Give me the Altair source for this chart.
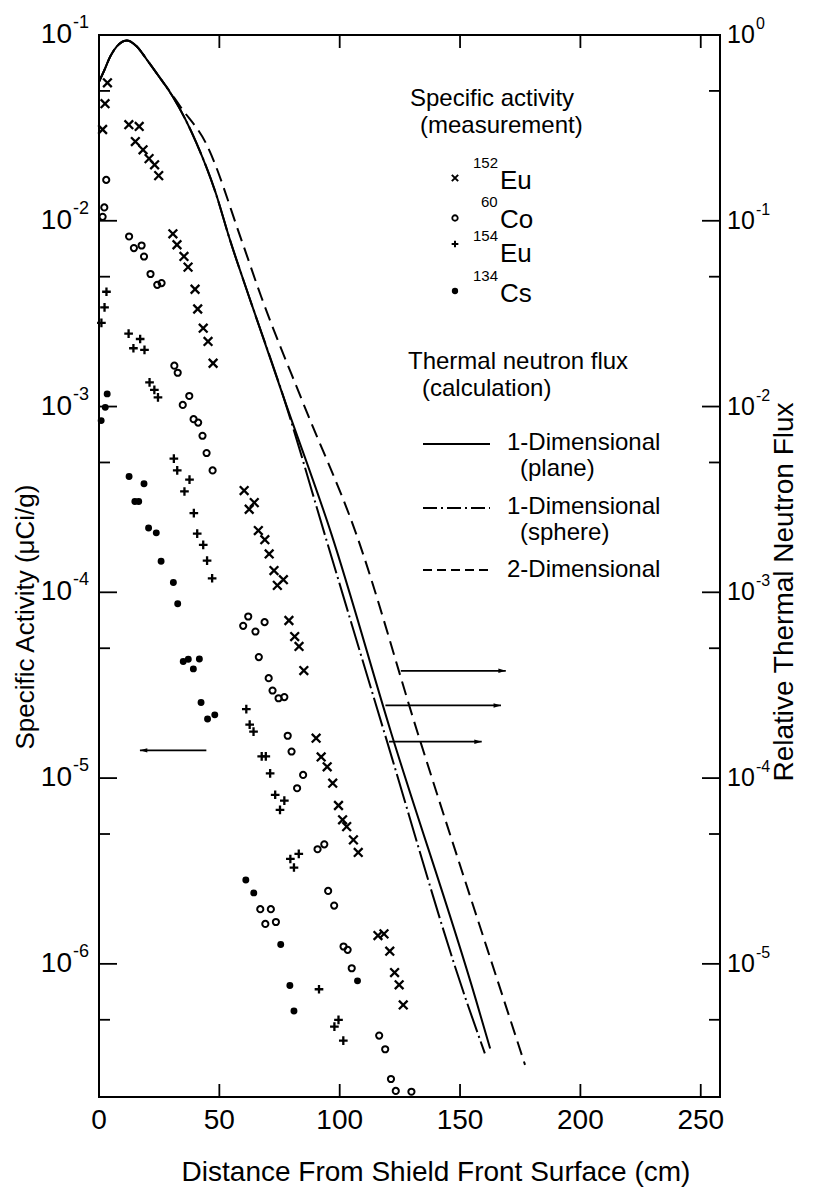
import altair as alt
import pandas as pd

# ---------------- data ----------------
eu152_x = [1.5, 2.5, 3.5, 12.4, 16.7, 15.1, 18.3, 20.8, 23.1, 24.8,
           30.7, 32.4, 35.3, 37.0, 39.9, 41.0, 43.3, 45.3, 47.4,
           60.3, 64.5, 62.4, 66.2, 68.9, 70.7, 72.7, 76.6, 74.1, 78.9, 81.3, 83.1, 85.1, 90.2,
           92.3, 94.8, 97.1, 99.5, 101.2, 102.9, 105.7, 107.7,
           115.9, 118.4, 120.8, 122.8, 124.7, 126.4]
eu152_y = [0.031, 0.0427, 0.0553, 0.0329, 0.0322, 0.0267, 0.0241, 0.0216, 0.0200, 0.0175,
           8.51e-3, 7.43e-3, 6.43e-3, 5.63e-3, 4.28e-3, 3.35e-3, 2.64e-3, 2.24e-3, 1.71e-3,
           3.53e-4, 3.04e-4, 2.8e-4, 2.15e-4, 1.92e-4, 1.61e-4, 1.31e-4, 1.17e-4, 1.09e-4, 7.05e-5, 5.78e-5, 5.11e-5, 3.79e-5, 1.64e-5,
           1.3e-5, 1.15e-5, 9.39e-6, 7.12e-6, 5.96e-6, 5.48e-6, 4.65e-6, 3.98e-6,
           1.42e-6, 1.45e-6, 1.17e-6, 8.98e-7, 7.71e-7, 6.01e-7]

co60_x = [1.5, 2.2, 3.0, 12.5, 14.5, 17.7, 18.7, 21.4, 24.2, 26.0,
          31.3, 32.7, 37.5, 34.8, 39.3, 41.2, 43.0, 44.7, 47.2,
          59.9, 62.0, 65.0, 68.8, 66.4, 70.5, 72.1, 74.6, 77.0, 78.4, 80.0, 84.8, 82.3,
          67.0, 71.4, 69.1, 73.5, 90.8, 93.6, 95.2, 97.7, 101.6, 103.3, 105.0,
          116.4, 118.9, 121.3, 123.3, 129.8]
co60_y = [0.0105, 0.0118, 0.0166, 8.23e-3, 7.13e-3, 7.36e-3, 6.42e-3, 5.17e-3, 4.52e-3, 4.62e-3,
          1.66e-3, 1.52e-3, 1.14e-3, 1.02e-3, 8.55e-4, 8.2e-4, 6.96e-4, 5.62e-4, 4.53e-4,
          6.6e-5, 7.41e-5, 6.15e-5, 6.91e-5, 4.48e-5, 3.45e-5, 2.96e-5, 2.69e-5, 2.73e-5, 1.69e-5, 1.39e-5, 1.04e-5, 8.82e-6,
          1.97e-6, 1.97e-6, 1.64e-6, 1.68e-6, 4.14e-6, 4.4e-6, 2.47e-6, 2.06e-6, 1.24e-6, 1.19e-6, 9.47e-7,
          4.11e-7, 3.47e-7, 2.4e-7, 2.07e-7, 2.05e-7]

eu154_x = [1.0, 2.3, 3.1, 12.3, 17.1, 14.3, 18.9, 21.0, 23.0, 24.5,
           31.1, 32.5, 37.6, 35.5, 39.4, 40.8, 43.3, 44.9, 47.0,
           61.2, 62.6, 64.2, 67.6, 69.3, 71.1, 73.2, 77.0, 75.2, 79.5, 83.0, 81.0,
           91.4, 97.8, 99.5, 101.5]
eu154_y = [2.82e-3, 3.42e-3, 4.15e-3, 2.47e-3, 2.31e-3, 2.06e-3, 2.02e-3, 1.35e-3, 1.23e-3, 1.12e-3,
           5.24e-4, 4.53e-4, 4.04e-4, 3.49e-4, 2.67e-4, 2.07e-4, 1.8e-4, 1.48e-4, 1.19e-4,
           2.35e-5, 1.94e-5, 1.78e-5, 1.31e-5, 1.31e-5, 1.06e-5, 8.13e-6, 7.57e-6, 6.75e-6, 3.67e-6, 3.91e-6, 3.3e-6,
           7.3e-7, 4.59e-7, 4.99e-7, 3.86e-7]

cs134_x = [0.9, 2.6, 3.4, 12.5, 18.7, 14.9, 16.5, 20.6, 23.8, 25.8,
           30.9, 32.7, 35.0, 37.1, 39.2, 41.7, 42.4, 45.1, 48.1,
           61.0, 64.3, 75.5, 79.3, 81.0, 107.4]
cs134_y = [8.4e-4, 9.9e-4, 1.17e-3, 4.2e-4, 3.84e-4, 3.08e-4, 3.08e-4, 2.22e-4, 2.09e-4, 1.47e-4,
           1.13e-4, 8.67e-5, 4.24e-5, 4.36e-5, 3.87e-5, 4.38e-5, 2.55e-5, 2.08e-5, 2.19e-5,
           2.83e-6, 2.41e-6, 1.27e-6, 7.64e-7, 5.58e-7, 8.1e-7]

plane_x = [0, 2, 4.7, 7.4, 11.6, 15.7, 19.9, 25.4, 31, 40.5, 48.5, 54, 62.2, 76.7, 96.4, 121.4, 156.6, 162.5]
plane_y = [0.056, 0.0637, 0.0767, 0.0868, 0.0935, 0.0868, 0.0736, 0.0586, 0.0458, 0.0262, 0.0141,
           8.2e-3, 3.95e-3, 1.12e-3, 2.09e-4, 1.75e-5, 6.4e-7, 3.5e-7]

sphere_x = [0, 2, 4.7, 7.4, 11.6, 15.7, 19.9, 25.4, 31, 40.5, 48.5, 54, 62.2, 76.7, 93.6, 118.6, 152.5, 160.3]
sphere_y = [0.056, 0.0637, 0.0767, 0.0868, 0.0935, 0.0868, 0.0736, 0.0586, 0.0458, 0.0262, 0.0141,
            8.2e-3, 3.95e-3, 1.12e-3, 2.09e-4, 1.75e-5, 6.4e-7, 3.3e-7]

twod_x = [0, 2, 4.7, 7.4, 11.6, 15.7, 19.9, 25.4, 28, 34, 44.4, 59.3, 67.4, 85, 106.7, 132.4, 168.2, 177]
twod_y = [0.056, 0.0637, 0.0767, 0.0868, 0.0935, 0.0868, 0.0736, 0.0586, 0.0528, 0.0408, 0.0262,
          7.8e-3, 3.9e-3, 1.03e-3, 2.09e-4, 1.75e-5, 6.4e-7, 2.86e-7]

# arrows (axis indicators): start x, end x, level
arrow_right_x1 = [125.4, 119.0, 120.5]
arrow_right_x2 = [169.0, 167.0, 159.0]
arrow_right_y = [3.78e-5, 2.46e-5, 1.57e-5]
arrow_left_x1 = [17.0]
arrow_left_x2 = [44.6]
arrow_left_y = [1.41e-5]

x_ticks = [0, 50, 100, 150, 200, 250]
y_major = [1e-1, 1e-2, 1e-3, 1e-4, 1e-5, 1e-6]
y_minor = [5e-2, 5e-3, 5e-4, 5e-5, 5e-6, 5e-7]
left_exp = ["-1", "-2", "-3", "-4", "-5", "-6"]
right_exp = ["0", "-1", "-2", "-3", "-4", "-5"]

# ---------------- layout ----------------
W, H = 621, 1062
XMAX = 258
YMIN, YMAX = 1.92e-7, 0.1
FONT = "Liberation Sans, DejaVu Sans"

xs = alt.Scale(domain=[0, XMAX], nice=False, zero=False)
ys = alt.Scale(type="log", domain=[YMIN, YMAX], nice=False)


def X(f="x"):
    return alt.X(f"{f}:Q", scale=xs, axis=None)


def Y(f="y"):
    return alt.Y(f"{f}:Q", scale=ys, axis=None)


ONE = pd.DataFrame({"k": [0]})
layers = []


def txt(s, px, py, size, align="left", angle=None):
    kw = dict(align=align, baseline="middle", fontSize=size, font=FONT, color="black")
    if angle is not None:
        kw["angle"] = angle
    return alt.Chart(ONE).mark_text(**kw).encode(x=alt.value(px), y=alt.value(py), text=alt.value(s))


# curves
def curve(xv, yv, dash=None):
    df = pd.DataFrame({"x": xv, "y": yv, "o": list(range(len(xv)))})
    kw = dict(color="black", strokeWidth=2, interpolate="monotone")
    if dash:
        kw["strokeDash"] = dash
    return alt.Chart(df).mark_line(**kw).encode(x=X(), y=Y(), order="o:Q")


layers.append(curve(plane_x, plane_y))
layers.append(curve(sphere_x, sphere_y, [30, 4, 2, 4]))
layers.append(curve(twod_x, twod_y, [14, 7]))

# measured points
XSHAPE = "M-1,-1L1,1M-1,1L1,-1"
PLUS = "M-1,0L1,0M0,-1L0,1"
layers.append(alt.Chart(pd.DataFrame({"x": eu152_x, "y": eu152_y})).mark_point(
    shape=XSHAPE, filled=False, size=75, strokeWidth=2.3, color="black", opacity=1).encode(x=X(), y=Y()))
layers.append(alt.Chart(pd.DataFrame({"x": co60_x, "y": co60_y})).mark_point(
    shape="circle", filled=False, size=38, strokeWidth=2, color="black", opacity=1).encode(x=X(), y=Y()))
layers.append(alt.Chart(pd.DataFrame({"x": eu154_x, "y": eu154_y})).mark_point(
    shape=PLUS, filled=False, size=75, strokeWidth=2.3, color="black", opacity=1).encode(x=X(), y=Y()))
layers.append(alt.Chart(pd.DataFrame({"x": cs134_x, "y": cs134_y})).mark_point(
    shape="circle", filled=True, size=48, color="black", opacity=1).encode(x=X(), y=Y()))

# arrows
ar = pd.DataFrame({"x1": arrow_right_x1, "x2": arrow_right_x2, "y": arrow_right_y})
al = pd.DataFrame({"x1": arrow_left_x1, "x2": arrow_left_x2, "y": arrow_left_y})
for d in (ar, al):
    layers.append(alt.Chart(d).mark_rule(color="black", strokeWidth=1.8).encode(
        x=X("x1"), x2="x2:Q", y=Y()))
layers.append(alt.Chart(ar).mark_point(shape="M0,0L-1,-0.3L-1,0.3Z", filled=True, size=220,
                                       color="black", opacity=1).encode(x=X("x2"), y=Y()))
layers.append(alt.Chart(al).mark_point(shape="M0,0L1,-0.3L1,0.3Z", filled=True, size=220,
                                       color="black", opacity=1).encode(x=X("x1"), y=Y()))

# inward ticks
maj = pd.DataFrame({"v": y_major, "e": left_exp, "r": right_exp, "b": ["10"] * 6})
mnr = pd.DataFrame({"v": y_minor})
layers.append(alt.Chart(maj).mark_rule(color="black", strokeWidth=1.8).encode(
    x=alt.value(0), x2=alt.value(18), y=Y("v")))
layers.append(alt.Chart(maj).mark_rule(color="black", strokeWidth=1.8).encode(
    x=alt.value(W), x2=alt.value(W - 18), y=Y("v")))
layers.append(alt.Chart(mnr).mark_rule(color="black", strokeWidth=1.8).encode(
    x=alt.value(0), x2=alt.value(11), y=Y("v")))
layers.append(alt.Chart(mnr).mark_rule(color="black", strokeWidth=1.8).encode(
    x=alt.value(W), x2=alt.value(W - 11), y=Y("v")))
xt = pd.DataFrame({"v": x_ticks[1:]})
layers.append(alt.Chart(xt).mark_rule(color="black", strokeWidth=1.8).encode(
    x=X("v"), y=alt.value(H), y2=alt.value(H - 13)))
layers.append(alt.Chart(xt).mark_rule(color="black", strokeWidth=1.8).encode(
    x=X("v"), y=alt.value(0), y2=alt.value(13)))

# tick labels (10 with raised exponent)
layers.append(alt.Chart(maj).mark_text(align="right", baseline="middle", fontSize=28, font=FONT,
                                       color="black").encode(x=alt.value(-27), y=Y("v"), text="b:N"))
layers.append(alt.Chart(maj).mark_text(align="left", baseline="middle", fontSize=18, font=FONT,
                                       color="black", dy=-12).encode(x=alt.value(-26), y=Y("v"), text="e:N"))
layers.append(alt.Chart(maj).mark_text(align="left", baseline="middle", fontSize=25, font=FONT,
                                       color="black").encode(x=alt.value(W + 7), y=Y("v"), text="b:N"))
layers.append(alt.Chart(maj).mark_text(align="left", baseline="middle", fontSize=16, font=FONT,
                                       color="black", dy=-11).encode(x=alt.value(W + 36), y=Y("v"), text="r:N"))
xl = pd.DataFrame({"v": x_ticks, "t": [str(v) for v in x_ticks]})
layers.append(alt.Chart(xl).mark_text(align="center", baseline="middle", fontSize=28, font=FONT,
                                      color="black").encode(x=X("v"), y=alt.value(H + 24), text="t:N"))

# axis titles
layers.append(txt("Distance  From  Shield  Front  Surface  (cm)", 337, 1138, 28, align="center"))
layers.append(txt("Specific  Activity  (\u03bcCi/g)", -73, 582, 26, align="center", angle=270))
layers.append(txt("Relative  Thermal  Neutron  Flux", 686, 557, 28, align="center", angle=270))

# legend
LF = 24
layers.append(txt("Specific  activity", 311, 64, LF))
layers.append(txt("(measurement)", 321, 91, LF))
layers.append(alt.Chart(ONE).mark_point(shape=XSHAPE, filled=False, size=40, strokeWidth=2, color="black",
                                        opacity=1).encode(x=alt.value(356), y=alt.value(143)))
layers.append(alt.Chart(ONE).mark_point(shape="circle", filled=False, size=30, strokeWidth=1.8, color="black",
                                        opacity=1).encode(x=alt.value(356), y=alt.value(183)))
layers.append(alt.Chart(ONE).mark_point(shape=PLUS, filled=False, size=45, strokeWidth=2, color="black",
                                        opacity=1).encode(x=alt.value(356), y=alt.value(209)))
layers.append(alt.Chart(ONE).mark_point(shape="circle", filled=True, size=40, color="black",
                                        opacity=1).encode(x=alt.value(356), y=alt.value(256)))
for sup, el, yy in [("152", "Eu", 146), ("60", "Co", 185), ("154", "Eu", 219), ("134", "Cs", 259)]:
    layers.append(alt.Chart(ONE).mark_text(align="left", baseline="middle", fontSize=15, font=FONT,
                                           color="black").encode(
        x=alt.value(374 if len(sup) == 3 else 382), y=alt.value(yy - 18), text=alt.value(sup)))
    layers.append(txt(el, 401, yy, 26))
layers.append(txt("Thermal  neutron  flux", 309, 327, LF))
layers.append(txt("(calculation)", 323, 354, LF))
for yy, dash in [(409, None), (473, [14, 4, 2, 4]), (535, [9, 5])]:
    kw = dict(color="black", strokeWidth=2)
    if dash:
        kw["strokeDash"] = dash
    layers.append(alt.Chart(ONE).mark_rule(**kw).encode(x=alt.value(324), x2=alt.value(391), y=alt.value(yy)))
layers.append(txt("1-Dimensional", 408, 408, LF))
layers.append(txt("(plane)", 421, 434, LF))
layers.append(txt("1-Dimensional", 408, 472, LF))
layers.append(txt("(sphere)", 421, 498, LF))
layers.append(txt("2-Dimensional", 408, 535, LF))

chart = alt.layer(*layers).properties(
    width=W, height=H,
    padding={"left": 99, "top": 35, "right": 100, "bottom": 92},
    autosize=alt.AutoSizeParams(type="none"),
    background="white",
).configure_view(stroke="black", strokeWidth=2)

chart.save("out.html", embed_options={"renderer": "svg", "actions": False})
